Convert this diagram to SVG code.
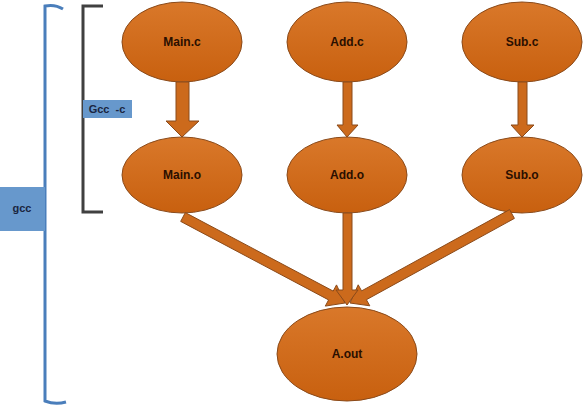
<svg xmlns="http://www.w3.org/2000/svg" width="585" height="408" viewBox="0 0 585 408">
<defs>
<linearGradient id="og" x1="0" y1="0" x2="0" y2="1">
<stop offset="0" stop-color="#D9782A"/>
<stop offset="1" stop-color="#C8600F"/>
</linearGradient>
<style>
.n{fill:url(#og);stroke:#8A4A1A;stroke-width:1}
.a{fill:#CC6A1C;stroke:#8A4A1A;stroke-width:1}
.t{font-family:"Liberation Sans",Arial,sans-serif;font-weight:bold;font-size:12px;fill:#2A0F00;text-anchor:middle;dominant-baseline:central}
.lb{fill:#6798CC}
.lt{font-family:"Liberation Sans",Arial,sans-serif;font-size:11px;fill:#1A2540;text-anchor:middle;dominant-baseline:central;font-weight:bold}
</style>
</defs>
<rect width="585" height="408" fill="#fff"/>
<g id="brackets" fill="none" stroke-width="3">
<path d="M63,9 Q55,4 45,6 L45,401 Q55,405 66,402" stroke="#4A7EBB"/>
<path d="M103,6 L83,6 L83,212 L103,212" stroke="#404040"/>
</g>
<g id="label-gcc-c"><rect class="lb" x="83" y="100" width="49" height="18"/><text class="lt" x="107" y="109" xml:space="preserve">Gcc  -c</text></g>
<g id="label-gcc"><rect class="lb" x="0" y="187" width="45" height="44"/><text class="lt" x="22" y="208">gcc</text></g>
<g id="main-c"><ellipse class="n" cx="182" cy="42" rx="60" ry="40"/><text class="t" x="182" y="42">Main.c</text></g>
<g id="add-c"><ellipse class="n" cx="347" cy="42" rx="60" ry="40"/><text class="t" x="347" y="42">Add.c</text></g>
<g id="sub-c"><ellipse class="n" cx="522" cy="42" rx="60" ry="40"/><text class="t" x="522" y="42">Sub.c</text></g>
<g id="main-o"><ellipse class="n" cx="182" cy="175" rx="60" ry="38"/><text class="t" x="182" y="175">Main.o</text></g>
<g id="add-o"><ellipse class="n" cx="347" cy="175" rx="60" ry="38"/><text class="t" x="347" y="175">Add.o</text></g>
<g id="sub-o"><ellipse class="n" cx="522" cy="175" rx="60" ry="38"/><text class="t" x="522" y="175">Sub.o</text></g>
<g id="a-out"><ellipse class="n" cx="347" cy="354" rx="70" ry="47"/><text class="t" x="347" y="354">A.out</text></g>
<g id="connectors">
<polygon class="a" points="176,82 189,82 189,121 199,121 182,137 166,121 176,121"/>
<polygon class="a" points="343,82 352,82 352,125 358,125 347,137 337,125 343,125"/>
<polygon class="a" points="518,82 527,82 527,125 534,125 522,137 511,125 518,125"/>
<polygon class="a" points="180.7,221.4 328.6,299.9 325.3,306.1 345,303 336.5,284.9 333.2,291.1 185.3,212.6"/>
<polygon class="a" points="509.6,209.6 361.6,290.9 358.2,284.8 350,303 369.8,305.8 366.4,299.7 514.4,218.4"/>
<polygon class="a" points="343,213 352,213 352,290 358,290 347,305 336,290 343,290"/>
</g>
</svg>
